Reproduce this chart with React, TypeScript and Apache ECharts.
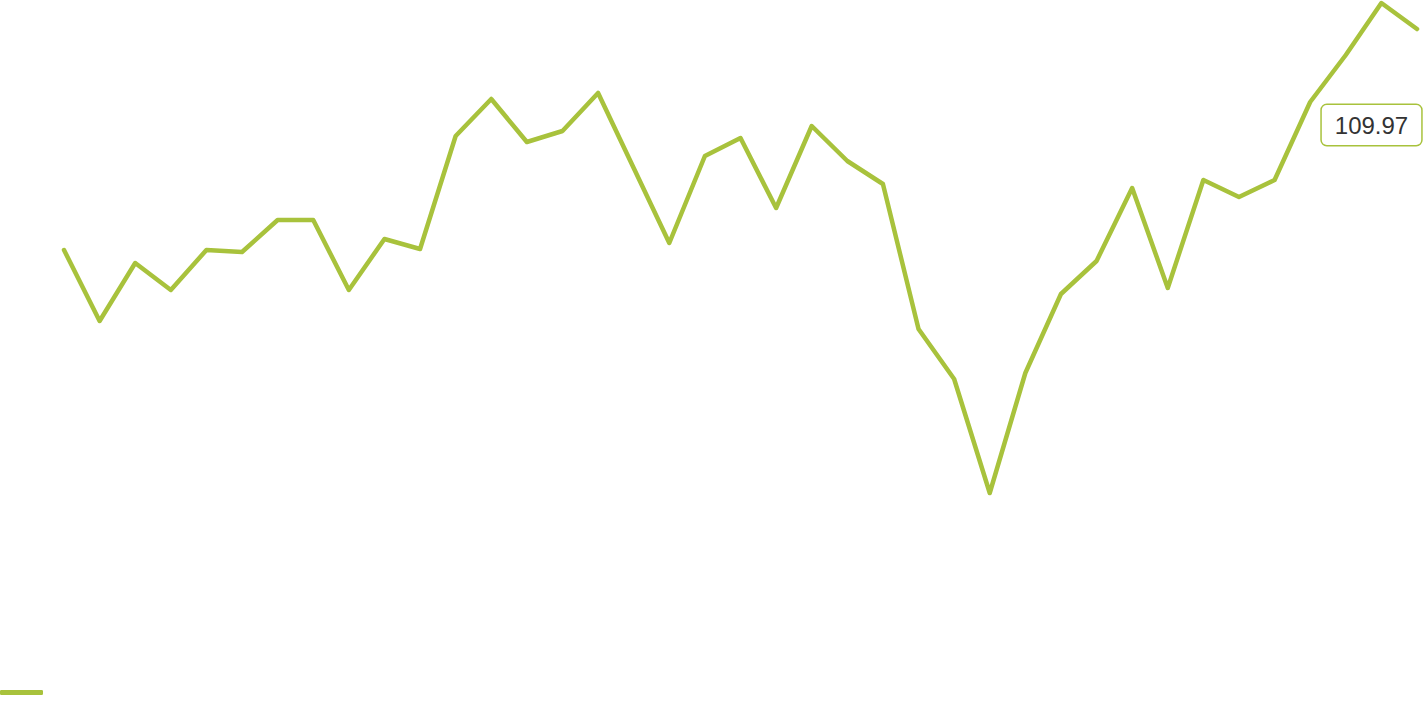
import React, { useEffect, useRef } from "react";
import * as echarts from "echarts";

const categories: string[] = Array.from({ length: 39 }, (_, i) => String(i + 1));
const values: number[] = [
  98.92, 95.37, 98.27, 96.92, 98.92, 98.82, 100.42, 100.42, 96.92, 99.47,
  98.97, 104.62, 106.47, 104.32, 104.87, 106.77, 103.02, 99.27, 103.62, 104.52,
  101.02, 105.12, 103.37, 102.22, 94.97, 92.47, 86.77, 92.77, 96.72, 98.37,
  102.02, 97.02, 102.42, 101.57, 102.42, 106.32, 108.67, 111.27, 109.97,
];
const seriesName = "Series";
const lastLabel = "109.97";
const COLOR = "#a8c23c";

export default function App() {
  const ref = useRef<HTMLDivElement>(null);
  useEffect(() => {
    if (!ref.current) return;
    const chart = echarts.init(ref.current, undefined, { renderer: "svg" });
    const lastIdx = values.length - 1;
    chart.setOption({
      animation: false,
      grid: { left: 64, right: 7, top: 0, bottom: 52, containLabel: false },
      legend: {
        show: true,
        left: 0,
        top: 690,
        padding: 0,
        icon: "roundRect",
        itemWidth: 43,
        itemHeight: 5,
        formatter: () => "",
        data: [seriesName],
      },
      xAxis: { type: "category", data: categories, boundaryGap: false, show: false },
      yAxis: { type: "value", min: 78.42, max: 111.42, show: false, splitLine: { show: false } },
      series: [
        {
          name: seriesName,
          type: "line",
          data: values,
          showSymbol: false,
          symbol: "none",
          itemStyle: { color: COLOR },
          lineStyle: { color: COLOR, width: 4.5, cap: "round", join: "round" },
          markPoint: {
            symbol: "circle",
            symbolSize: 0,
            itemStyle: { color: "transparent" },
            data: [{ coord: [lastIdx, values[lastIdx]], value: values[lastIdx] }],
            label: {
              show: true,
              position: "inside",
              offset: [-45.5, 96],
              formatter: lastLabel,
              color: "#333333",
              fontFamily: "Liberation Sans, Helvetica, Arial, sans-serif",
              fontSize: 24,
              backgroundColor: "#ffffff",
              borderColor: COLOR,
              borderWidth: 1.5,
              borderRadius: 5,
              padding: [8, 13, 8, 13],
            },
          },
        },
      ],
    });
    return () => chart.dispose();
  }, []);
  return (
    <div
      ref={ref}
      style={{ position: "absolute", left: 0, top: 0, width: 1424, height: 712 }}
    />
  );
}
